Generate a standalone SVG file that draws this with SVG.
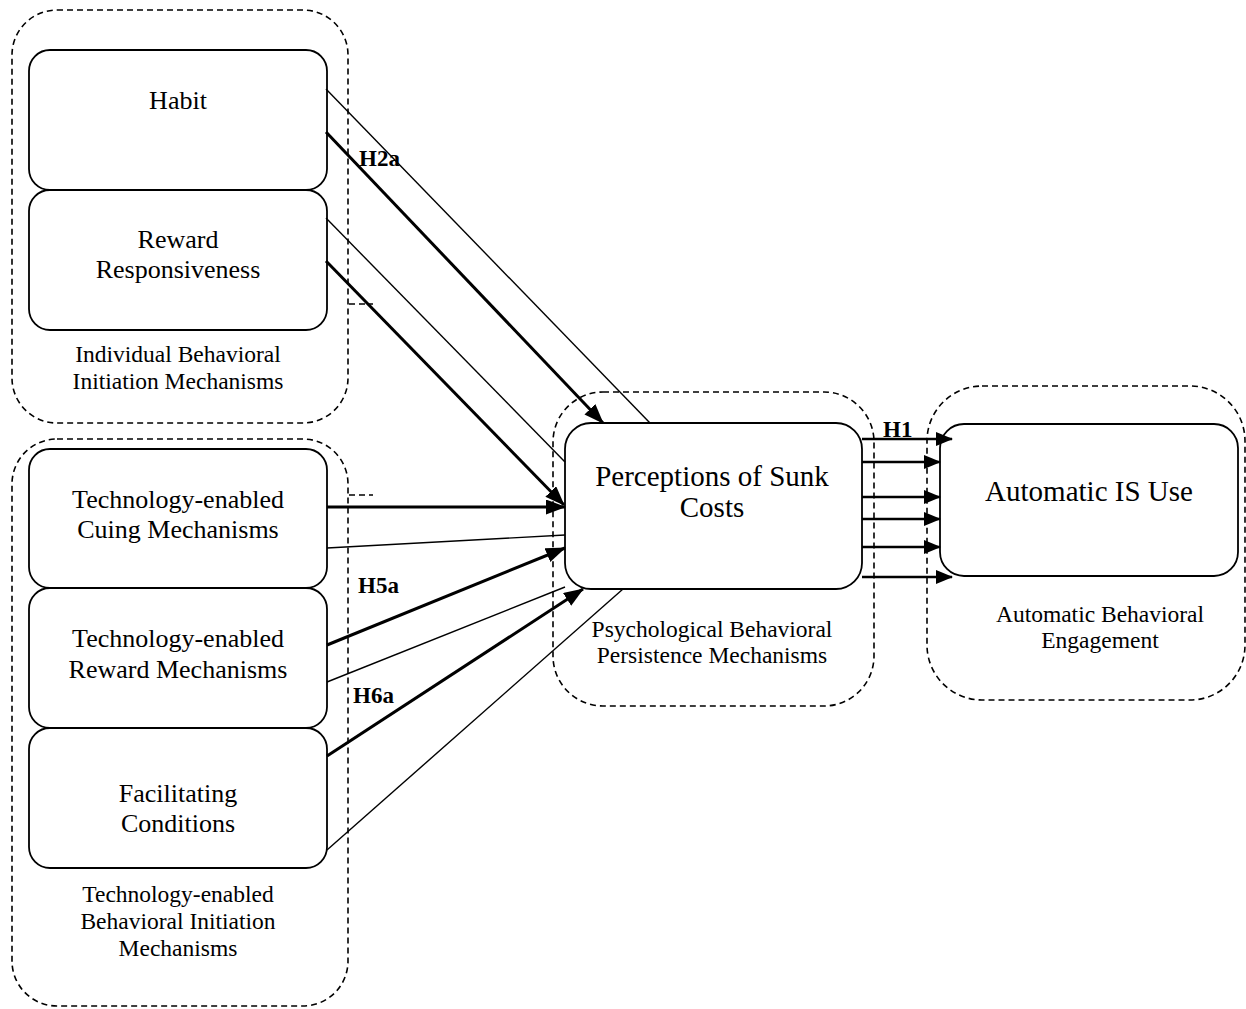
<svg xmlns="http://www.w3.org/2000/svg" width="1246" height="1009" viewBox="0 0 1246 1009">
<defs>
<style>
.box{fill:#fff;stroke:#000;stroke-width:1.8}
.grp{fill:none;stroke:#000;stroke-width:1.6;stroke-dasharray:6 4}
.t{font-family:"Liberation Serif","Times New Roman",serif;fill:#000;text-anchor:middle}
.lbl{font-size:26px}
.big{font-size:29px}
.cl{font-size:23.5px}
.h{font-family:"Liberation Serif","Times New Roman",serif;font-weight:bold;font-size:23px;fill:#000}
.thin{stroke:#000;stroke-width:1.4;fill:none}
.bold{stroke:#000;stroke-width:3;fill:none;marker-end:url(#ah)}
.h1{stroke:#000;stroke-width:2.6;fill:none;marker-end:url(#ah2)}
</style>
<marker id="ah" markerUnits="userSpaceOnUse" markerWidth="22" markerHeight="18" refX="19" refY="7.5" orient="auto">
<path d="M0,0 L20,7.5 L0,15 z" fill="#000"/>
</marker>
<marker id="ah2" markerUnits="userSpaceOnUse" markerWidth="18" markerHeight="15" refX="16" refY="7" orient="auto">
<path d="M0,0 L17,7 L0,14 z" fill="#000"/>
</marker>
</defs>
<rect width="1246" height="1009" fill="#fff"/>

<g id="groups">
<rect id="grp-individual" class="grp" x="12" y="10" width="336" height="413" rx="45" ry="45"/>
<rect id="grp-tech" class="grp" x="12" y="439" width="336" height="567" rx="45" ry="45"/>
<rect id="grp-psych" class="grp" x="553" y="392" width="321" height="314" rx="50" ry="50"/>
<rect id="grp-auto" class="grp" x="927" y="386" width="318" height="314" rx="55" ry="55"/>
<path class="grp" d="M349,304 H373 M349,495 H373"/>
<text class="t cl" x="178" y="362">Individual Behavioral</text>
<text class="t cl" x="178" y="389">Initiation Mechanisms</text>
<text class="t cl" x="178" y="902">Technology-enabled</text>
<text class="t cl" x="178" y="929">Behavioral Initiation</text>
<text class="t cl" x="178" y="956">Mechanisms</text>
<text class="t cl" x="712" y="637">Psychological Behavioral</text>
<text class="t cl" x="712" y="663">Persistence Mechanisms</text>
<text class="t cl" x="1100" y="622">Automatic Behavioral</text>
<text class="t cl" x="1100" y="648">Engagement</text>
</g>

<g id="habit">
<rect class="box" x="29" y="50" width="298" height="140" rx="21"/>
<text class="t lbl" x="178" y="109">Habit</text>
</g>
<g id="reward-responsiveness">
<rect class="box" x="29" y="190" width="298" height="140" rx="21"/>
<text class="t lbl" x="178" y="248">Reward</text>
<text class="t lbl" x="178" y="278">Responsiveness</text>
</g>
<g id="tech-cuing">
<rect class="box" x="29" y="449" width="298" height="139" rx="21"/>
<text class="t lbl" x="178" y="508">Technology-enabled</text>
<text class="t lbl" x="178" y="538">Cuing Mechanisms</text>
</g>
<g id="tech-reward">
<rect class="box" x="29" y="588" width="298" height="140" rx="21"/>
<text class="t lbl" x="178" y="647">Technology-enabled</text>
<text class="t lbl" x="178" y="678">Reward Mechanisms</text>
</g>
<g id="facilitating">
<rect class="box" x="29" y="728" width="298" height="140" rx="21"/>
<text class="t lbl" x="178" y="802">Facilitating</text>
<text class="t lbl" x="178" y="832">Conditions</text>
</g>
<g id="sunk-costs">
<rect class="box" x="565" y="423" width="297" height="166" rx="26"/>
<text class="t big" x="712" y="486">Perceptions of Sunk</text>
<text class="t big" x="712" y="517">Costs</text>
</g>
<g id="automatic-use">
<rect class="box" x="940" y="424" width="298" height="152" rx="24"/>
<text class="t big" x="1089" y="501">Automatic IS Use</text>
</g>

<g id="connectors">
<line class="thin" x1="326" y1="89" x2="650" y2="423"/>
<line class="bold" x1="326" y1="132" x2="603" y2="423"/>
<line class="thin" x1="326" y1="218" x2="565" y2="462"/>
<line class="bold" x1="326" y1="261" x2="564" y2="505"/>
<line class="bold" x1="327" y1="507" x2="565" y2="507"/>
<line class="thin" x1="327" y1="548" x2="565" y2="535"/>
<line class="bold" x1="327" y1="645" x2="565" y2="548"/>
<line class="thin" x1="327" y1="682" x2="565" y2="587"/>
<line class="bold" x1="327" y1="756" x2="583" y2="589"/>
<line class="thin" x1="327" y1="850" x2="623" y2="589"/>
<line class="h1" x1="862" y1="439" x2="952" y2="439"/>
<line class="h1" x1="862" y1="462" x2="940" y2="462"/>
<line class="h1" x1="862" y1="497" x2="940" y2="497"/>
<line class="h1" x1="862" y1="519" x2="940" y2="519"/>
<line class="h1" x1="862" y1="547" x2="940" y2="547"/>
<line class="h1" x1="862" y1="577" x2="952" y2="577"/>
<text class="h" x="359" y="166">H2a</text>
<text class="h" x="358" y="593">H5a</text>
<text class="h" x="353" y="703">H6a</text>
<text class="h" x="883" y="437">H1</text>
</g>
</svg>
